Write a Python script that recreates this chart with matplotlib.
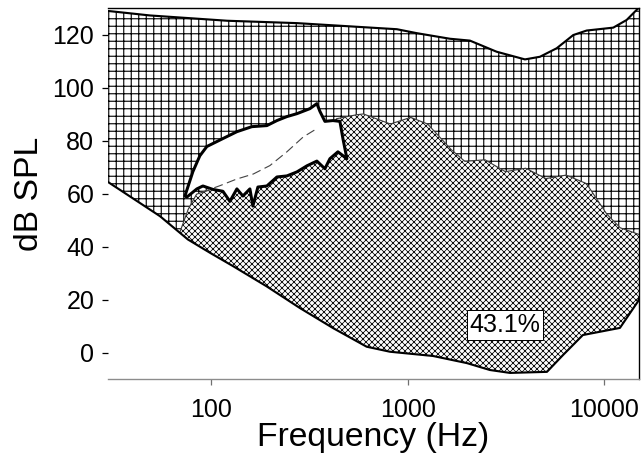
import matplotlib
matplotlib.use('Agg')
import matplotlib.pyplot as plt
from matplotlib.ticker import FixedLocator, FixedFormatter, NullLocator

plt.rcParams['font.family'] = ['Liberation Sans', 'DejaVu Sans']
plt.rcParams['hatch.linewidth'] = 0.9
plt.rcParams['hatch.color'] = 'black'

# ---------------- data ----------------
# threshold of pain (upper boundary)
pain_freq = [30, 49, 121, 274, 882, 1115, 1641, 2073, 2834, 3948, 4706, 5722,
             6950, 8128, 11100, 12985, 15000]
pain_db = [129.0, 127.3, 125.3, 124.4, 122.1, 120.6, 118.5, 117.8, 113.6, 110.7,
           111.7, 114.9, 119.9, 121.6, 122.7, 125.6, 130.3]

# threshold of hearing (lower boundary)
thr_freq = [30, 55.1, 76.4, 98.8, 129.8, 192, 283.5, 418.6, 619, 813, 1345, 2002,
            2620, 3313, 5108, 6155, 7775, 12000, 14820, 15000]
thr_db = [64.4, 51.5, 42.7, 37.7, 32.6, 25.0, 16.8, 9.2, 2.2, 0.3, -1.3, -4.0,
          -6.6, -7.7, -7.3, -1.0, 6.6, 9.3, 19.3, 20.5]

# upper edge of the cross-hatched (music) region
music_freq = [69.6, 76.7, 84.6, 104.8, 157.9, 216.6, 318.6, 435.5, 550.5, 596.3,
              817.5, 1037, 1264, 1668, 1954, 2474, 3139, 3981, 5042, 6393, 8110,
              10285, 12044, 15000]
music_db = [45.5, 54.1, 59.8, 62.0, 66.0, 71.0, 77.0, 88.3, 89.8, 90.1, 86.3, 88.8,
            86.3, 76.6, 72.2, 72.8, 68.3, 69.6, 65.7, 67.0, 63.8, 52.3, 47.1, 44.6]

# white (speech) blob outline
blob_freq = [73.8, 81.0, 87.9, 95.4, 115.1, 135.6, 161.6, 192.6, 216.6, 243.4,
             273.6, 318.6, 345.8, 358.2, 379.8, 417.1, 452.7, 469.0, 491.4, 442.3,
             402.7, 379.8, 345.8, 307.6, 273.6, 243.4, 216.6, 192.6, 173.4, 163.5,
             157.9, 145.5, 135.6, 124.9, 115.1, 102.4, 91.1, 84.9, 75.5]
blob_db = [59.1, 68.3, 74.3, 77.8, 80.8, 83.4, 85.3, 85.7, 87.6, 89.1, 90.2, 92.1,
           94.0, 91.1, 87.3, 87.6, 87.3, 80.8, 73.2, 75.8, 73.2, 69.4, 72.3, 70.5,
           68.2, 66.7, 66.3, 62.9, 62.5, 55.3, 61.8, 59.1, 61.8, 57.1, 60.9, 61.6,
           62.9, 61.8, 58.7]

# dashed mean line inside blob
mean_freq = [89.7, 111.1, 135.1, 164.1, 199.5, 242.6, 294.6, 344.6]
mean_db = [60.5, 63.0, 65.5, 67.4, 70.6, 75.7, 81.4, 84.5]

xticks = [100, 1000, 10000]
xtick_labels = ['100', '1000', '10000']
yticks = [0, 20, 40, 60, 80, 100, 120]
label_text = '43.1%'
label_pos = (3125, 10.4)

# ---------------- figure ----------------
DPI = 90
fig = plt.figure(figsize=(644 / DPI, 465 / DPI), dpi=DPI)
ax = fig.add_axes([108 / 644, 1 - 379 / 465, (639 - 108) / 644, (379 - 8.3) / 465])
ax.set_xscale('log')
ax.set_xlim(30, 15000)
ax.set_ylim(-10, 130)

# grid hatched region between hearing threshold and pain threshold
gx = pain_freq + thr_freq[::-1]
gy = pain_db + thr_db[::-1]
(gpatch,) = ax.fill(gx, gy, facecolor='white', edgecolor='black', hatch='++',
                    linewidth=0, zorder=1)
if hasattr(gpatch, 'set_hatch_linewidth'):
    gpatch.set_hatch_linewidth(0.9)

# cross-hatched music region
lo = [(f, d) for f, d in zip(thr_freq, thr_db) if music_freq[0] < f <= music_freq[-1]]
cx = music_freq + [f for f, _ in lo][::-1]
cy = music_db + [d for _, d in lo][::-1]
with plt.rc_context({'hatch.linewidth': 0.6}):
    (xpatch,) = ax.fill(cx, cy, facecolor='white', edgecolor='black', hatch='xxxxx',
                        linewidth=0, zorder=2)
if hasattr(xpatch, 'set_hatch_linewidth'):
    xpatch.set_hatch_linewidth(0.6)
ax.plot(music_freq, music_db, color='#3a3a3a', lw=0.9, zorder=2.5)

# boundary lines
ax.plot(pain_freq, pain_db, color='black', lw=1.7, zorder=3)
ax.plot(thr_freq, thr_db, color='black', lw=1.7, zorder=3)

# blob
ax.fill(blob_freq, blob_db, facecolor='white', edgecolor='black', lw=2.4,
        joinstyle='round', zorder=4)
ax.plot(mean_freq, mean_db, color='#444444', lw=0.9, dashes=(8, 4), zorder=5)

ax.text(label_pos[0], label_pos[1], label_text, fontsize=20, ha='center', va='center',
        zorder=6, bbox=dict(boxstyle='square,pad=0.12', fc='white', ec='black', lw=0.8))

# axes styling
ax.spines['left'].set_visible(False)
ax.spines['top'].set_color('black')
ax.spines['right'].set_color('black')
ax.spines['top'].set_linewidth(1.1)
ax.spines['right'].set_linewidth(1.1)
ax.spines['bottom'].set_color('#8c8c8c')
ax.spines['bottom'].set_linewidth(1.1)
for s in ax.spines.values():
    s.set_zorder(7)

ax.xaxis.set_major_locator(FixedLocator(xticks))
ax.xaxis.set_major_formatter(FixedFormatter(xtick_labels))
ax.xaxis.set_minor_locator(NullLocator())
ax.set_yticks(yticks)
ax.tick_params(axis='x', direction='out', length=5, width=1, color='#707070',
               labelsize=20, pad=10)
ax.tick_params(axis='y', direction='out', length=5, width=1, color='black',
               labelsize=20, pad=6)

ax.set_xlabel('Frequency (Hz)', fontsize=27, labelpad=0)
ax.set_ylabel('dB SPL', fontsize=27, labelpad=6)

fig.savefig('out.png', dpi=DPI)
